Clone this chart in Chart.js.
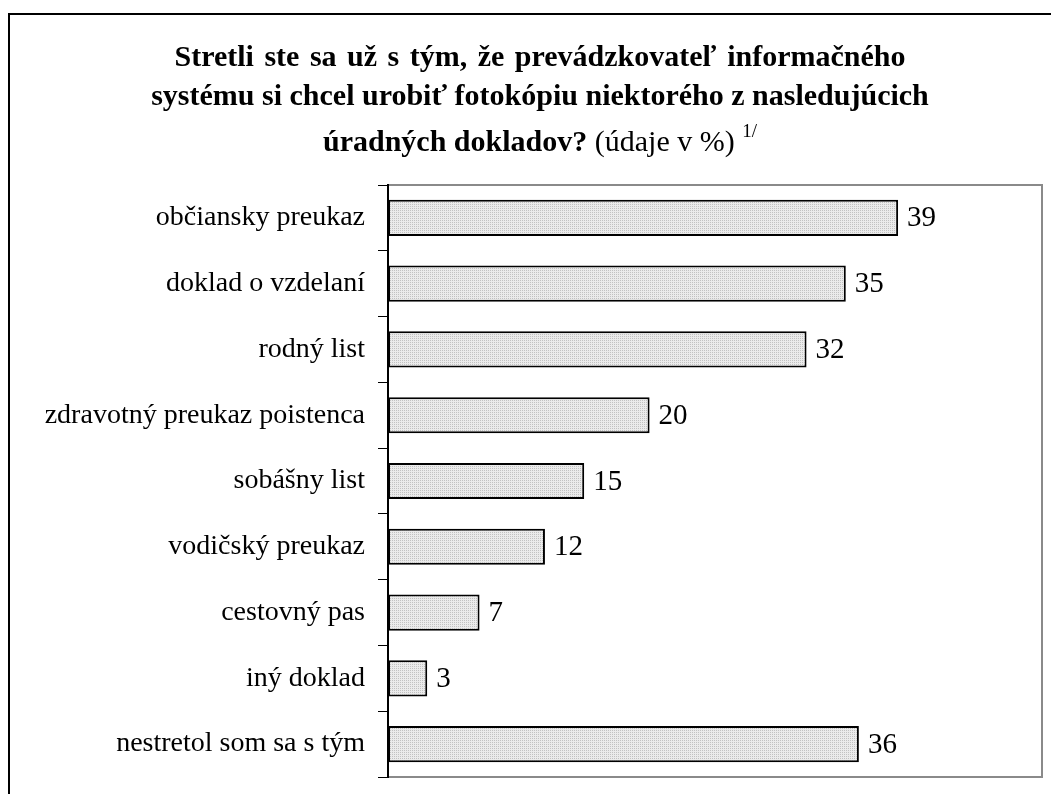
<!DOCTYPE html>
<html>
<head>
<meta charset="utf-8">
<script src="https://cdn.jsdelivr.net/npm/chart.js@4.4.0/dist/chart.umd.min.js"></script>
<style>
  html, body { margin: 0; padding: 0; background: #fff; overflow: hidden; }
  #wrap { position: relative; width: 1051px; height: 794px; }
  #frame { position: absolute; left: 8px; top: 13px; width: 1100px; height: 850px; border: 2px solid #000; }
  #chart { position: absolute; left: 0; top: 0; }
  .t { position: absolute; left: 0; width: 1080px; text-align: center; font-family: 'Liberation Serif', serif;
       font-size: 30px; line-height: 30px; color: #000; white-space: nowrap; }
  .b { font-weight: bold; }
  sup { font-size: 19px; vertical-align: 14px; line-height: 0; }
</style>
</head>
<body>
<div id="wrap">
  <div id="frame"></div>
  <canvas id="chart" width="1051" height="794"></canvas>
  <div class="t b" style="top:41px; word-spacing:3px">Stretli ste sa už s tým, že prevádzkovateľ informačného</div>
  <div class="t b" style="top:80px">systému si chcel urobiť fotokópiu niektorého z nasledujúcich</div>
  <div class="t" style="top:126px"><span class="b">úradných dokladov?</span> (údaje v %) <sup>1/</sup></div>
</div>
<script>
//data for the chart
const categories = ['občiansky preukaz', 'doklad o vzdelaní', 'rodný list', 'zdravotný preukaz poistenca',
  'sobášny list', 'vodičský preukaz', 'cestovný pas', 'iný doklad', 'nestretol som sa s tým']
const values = [39, 35, 32, 20, 15, 12, 7, 3, 36]
const axisMin = 0
const axisMax = 50

Chart.defaults.font.family = "'Liberation Serif', serif"
Chart.defaults.color = '#000'

//dotted grey fill like the original
const tile = document.createElement('canvas')
tile.width = 2
tile.height = 2
const tctx = tile.getContext('2d')
tctx.fillStyle = '#ebebeb'
tctx.fillRect(0, 0, 2, 2)
tctx.fillStyle = '#c2c2c2'
tctx.fillRect(0, 0, 1, 1)
const ctx = document.getElementById('chart').getContext('2d')
const dots = ctx.createPattern(tile, 'repeat')

const plotFrame = {
  id: 'plotFrame',
  beforeDraw(chart) {
    const a = chart.chartArea
    const c = chart.ctx
    c.save()
    c.strokeStyle = '#8a8a8a'
    c.lineWidth = 2
    c.beginPath()
    c.moveTo(a.left, a.top)
    c.lineTo(a.right, a.top)
    c.lineTo(a.right, a.bottom)
    c.lineTo(a.left, a.bottom)
    c.stroke()
    c.restore()
  }
}

const valueLabels = {
  id: 'valueLabels',
  afterDatasetsDraw(chart) {
    const c = chart.ctx
    const meta = chart.getDatasetMeta(0)
    c.save()
    c.font = "29px 'Liberation Serif'"
    c.fillStyle = '#000'
    c.textAlign = 'left'
    c.textBaseline = 'middle'
    meta.data.forEach((bar, i) => {
      c.fillText(values[i], bar.x + 9, bar.y + 1)
    })
    c.restore()
  }
}

const data = {
  labels: categories,
  datasets: [{
    data: values,
    backgroundColor: dots,
    borderColor: '#000',
    borderWidth: 2,
    borderSkipped: false,
    barPercentage: 0.55,
    categoryPercentage: 1
  }]
}

const config = {
  type: 'bar',
  data: data,
  options: {
    indexAxis: 'y',
    responsive: false,
    animation: false,
    layout: { padding: { top: 185, right: 9, bottom: 17, left: 0 } },
    plugins: {
      legend: { display: false },
      tooltip: { enabled: false }
    },
    scales: {
      x: { display: false, min: axisMin, max: axisMax },
      y: {
        afterFit: s => {
          s.width = 388
          s.paddingTop = 0
          s.paddingBottom = 0
        },
        border: { color: '#000', width: 2 },
        grid: { drawOnChartArea: false, tickLength: 10, color: '#000', lineWidth: 1 },
        ticks: { padding: 13, font: { size: 28 }, color: '#000' }
      }
    }
  },
  plugins: [plotFrame, valueLabels]
}

const myChart = new Chart(ctx, config)
</script>
</body>
</html>
